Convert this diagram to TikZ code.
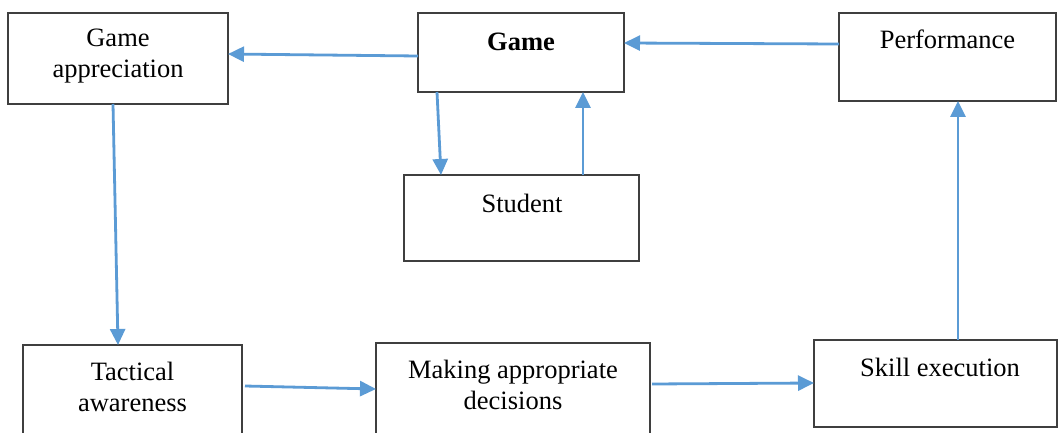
\documentclass[tikz,border=0pt]{standalone}
\usepackage{fontspec}
\setmainfont{Liberation Serif}
\usetikzlibrary{calc,arrows.meta}
\definecolor{arrowblue}{HTML}{5B9BD5}
\definecolor{boxgray}{HTML}{3F3F3F}
\tikzset{
  box/.style={draw=boxgray, line width=1.3pt, inner sep=0pt, outer sep=0pt, rectangle},
  lbl/.style={font=\fontsize{26.5}{31}\selectfont, align=center, inner sep=0pt, anchor=base},
  conn/.style={draw=arrowblue, line width=2.8pt, -{Triangle[length=16pt,width=15pt]}}
}
\begin{document}
\begin{tikzpicture}[x=1pt,y=-1pt]
\clip (0,0) rectangle (1060,433);
\fill[white] (0,0) rectangle (1060,433);
% boxes
\node[box, minimum width=220pt, minimum height=91pt] (ga) at (118,58.5) {};
\node[box, minimum width=206pt, minimum height=79pt] (game) at (521,52.5) {};
\node[box, minimum width=217pt, minimum height=88pt] (perf) at (947.5,57) {};
\node[box, minimum width=235pt, minimum height=86pt] (stu) at (521.5,218) {};
\node[box, minimum width=219pt, minimum height=100pt] (tac) at (132.5,395) {};
\node[box, minimum width=274pt, minimum height=102pt] (mak) at (513,394) {};
\node[box, minimum width=243pt, minimum height=87pt] (skill) at (935.5,383.5) {};
% labels (anchor base = baseline of last line)
\node[lbl] (tga) at (118,78) {Game\\appreciation};
\node[lbl] (tgame) at (521,51) {\textbf{Game}};
\node[lbl] (tperf) at (947.5,49) {Performance};
\node[lbl] (tstu) at (522,212) {Student};
\node[lbl] (ttac) at (132.5,411.5) {Tactical\\awareness};
\node[lbl] (tmak) at (513,409) {Making appropriate\\decisions};
\node[lbl] (tskill) at (940,376) {Skill execution};
% connectors
\draw[conn] ($(game.west)+(0,3.5)$) -- ($(ga.east)+(0,-4.5)$);
\draw[conn] ($(perf.west)+(0,-13)$) -- ($(game.east)+(0,-9.5)$);
\draw[conn] ($(game.south)+(-84,0)$) -- ($(stu.north)+(-80.5,0)$);
\draw[conn] ($(stu.north)+(61.5,0)$) -- ($(game.south)+(62,0)$);
\draw[conn] ($(ga.south)+(-5,0)$) -- ($(tac.north)+(-14.5,0)$);
\draw[conn] ($(tac.east)+(3,-9)$) -- ($(mak.west)+(0,-5)$);
\draw[conn] ($(mak.east)+(2,-10)$) -- ($(skill.west)+(0,-0.5)$);
\draw[conn] ($(skill.north)+(22.5,0)$) -- ($(perf.south)+(10.5,0)$);
\end{tikzpicture}
\end{document}
